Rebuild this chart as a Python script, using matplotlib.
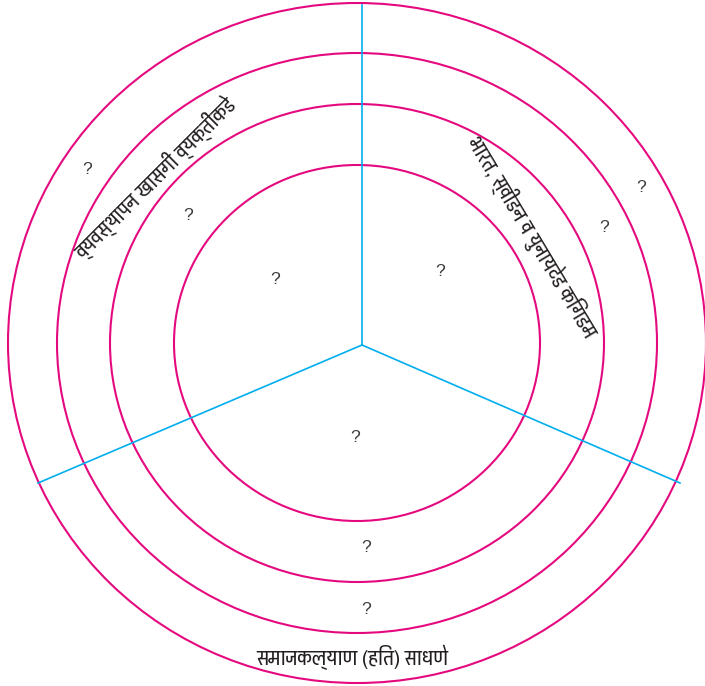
import matplotlib
matplotlib.use('Agg')
import matplotlib.pyplot as plt
from matplotlib.patches import Ellipse

# concentric rings (pixel units of the picture)
center = (357, 343)
ring_rx = [183, 247, 300, 349]
ring_ry = [178, 239, 290, 340]

# three spokes from the hub
hub = (362, 345)
spoke_x = [362, 38, 680]
spoke_y = [5, 483, 483]

# texts
labels = ['व्यवस्थापन खासगी व्यक्तींकडे',
          'भारत, स्वीडन व युनायटेड किंगडम',
          'समाजकल्याण (हित) साधणे']
label_x = [155, 532, 352]
label_y = [178, 237, 657]
label_rot = [45, -59, 0]

qmark_x = [87, 188, 275, 440, 604, 641, 355, 366, 366]
qmark_y = [170, 215, 280, 272, 228, 188, 437, 548, 610]

family = ['Pragati Narrow', 'DejaVu Sans']

fig = plt.figure(figsize=(7.05, 6.86), dpi=100)
ax = fig.add_axes([0, 0, 1, 1])
ax.set_xlim(0, 705)
ax.set_ylim(686, 0)
ax.axis('off')

for rx, ry in zip(ring_rx, ring_ry):
    ax.add_patch(Ellipse(center, 2*rx, 2*ry, fill=False,
                         edgecolor='#E5097F', lw=1.5))

for x, y in zip(spoke_x, spoke_y):
    ax.plot([hub[0], x], [hub[1], y], color='#00AEEF', lw=1.2)

# size the labels so the bottom one is as wide as in the picture (~194 px)
renderer = fig.canvas.get_renderer()
probe = ax.text(0, 0, labels[2], fontsize=12, family=family)
w = probe.get_window_extent(renderer).width
probe.remove()
fs = 12 * 194. / w

for t, x, y, r in zip(labels, label_x, label_y, label_rot):
    ax.text(x, y, t, rotation=r, ha='center', va='center',
            fontsize=fs, color='#231F20', family=family,
            rotation_mode='anchor')

for x, y in zip(qmark_x, qmark_y):
    ax.text(x, y, '?', ha='center', va='center', fontsize=12.5,
            color='#3a3a3a', family=['Liberation Sans Narrow', 'Liberation Sans'])

fig.savefig('out.png', dpi=100)
